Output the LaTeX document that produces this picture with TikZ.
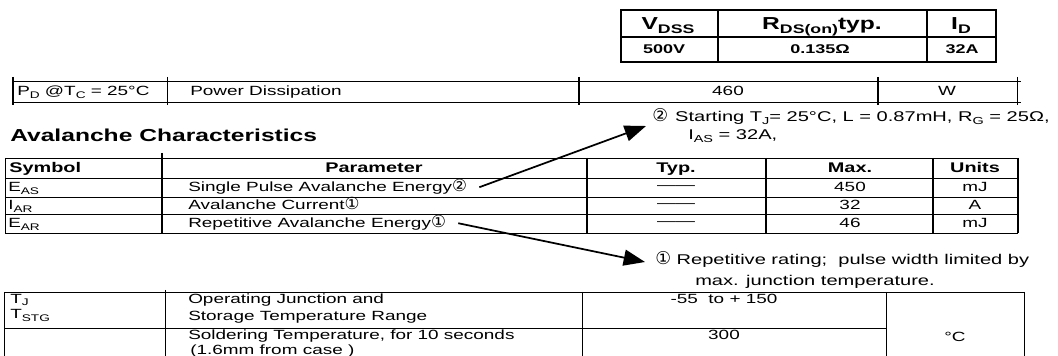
\documentclass[tikz,border=0pt]{standalone}
\usepackage{fontspec}
\setmainfont{Liberation Sans}[FakeStretch=1.42]
\newfontfamily\circfont{DejaVu Sans}
\usetikzlibrary{positioning,arrows.meta}

\newcommand{\lowidx}[1]{\raisebox{-0.35ex}{\scalebox{0.72}{#1}}}
\newcommand{\circnum}[1]{{\circfont\scalebox{1.25}{#1}}}

\begin{document}
\begin{tikzpicture}[x=0.75pt, y=-0.75pt,
    every node/.style={inner sep=0pt, font=\fontsize{10}{12}\selectfont},
    bighead/.style={font=\bfseries\fontsize{13}{15}\selectfont},
    colhead/.style={font=\bfseries\fontsize{10.5}{12}\selectfont},
    boldval/.style={font=\bfseries\fontsize{9.5}{11}\selectfont},
    dashval/.style={font=\fontsize{10}{12}\selectfont},
    notetext/.style={anchor=base west, font=\fontsize{10.6}{13}\selectfont},
    heavy/.style={line width=1.6pt},
    light/.style={line width=0.7pt},
    pointer/.style={line width=1.3pt, -{Triangle[length=16pt,width=12pt]}}]

    \useasboundingbox (0,0) rectangle (1058,356);

    \draw[heavy] (621,10) rectangle (996,62);
    \draw[heavy] (621,37) -- (996,37) (718,10) -- (718,62) (927,10) -- (927,62);
    \node[bighead, anchor=base] (vdss) at (668,30) {V\lowidx{DSS}};
    \node[bighead, anchor=base] (rdson) at (822,30) {R\lowidx{DS(on)}typ.};
    \node[bighead, anchor=base] (idrain) at (961,30) {I\lowidx{D}};
    \node[boldval, anchor=base] (vdssval) at (664,54) {500V};
    \node[boldval, anchor=base] (rdsonval) at (820,54) {0.135Ω};
    \node[boldval, anchor=base] (idrainval) at (962,54) {32A};

    \draw[light] (13,81) -- (1021,81) (13,102) -- (1021,102);
    \draw[line width=2.2pt] (13,77) -- (13,105);
    \draw[light] (167,77) -- (167,105) (1017,77) -- (1017,105);
    \draw[heavy] (579,77) -- (579,105) (878,77) -- (878,105);
    \node[anchor=base west] (pd) at (17,96) {P\lowidx{D} @T\lowidx{C} = 25°C};
    \node[anchor=base west] (pdpar) at (190,96) {Power Dissipation};
    \node[anchor=base] (pdmax) at (728,96) {460};
    \node[anchor=base] (pdunit) at (947,96) {W};

    \node[bighead, anchor=base west] (title) at (10,142) {Avalanche Characteristics};

    \foreach \y in {158,178,197,214,233}
        \draw[light] (5,\y) -- (1018,\y);
    \draw[light] (5,158) -- (5,233);
    \draw[heavy] (162,153) -- (162,233) (587,158) -- (587,233) (766,158) -- (766,233)
        (933,158) -- (933,233) (1018,158) -- (1018,233);

    \node[colhead, anchor=base west] (symhead) at (9,172.5) {Symbol};
    \node[colhead, anchor=base] (parhead) at (374,172.5) {Parameter};
    \node[colhead, anchor=base] (typhead) at (676,172.5) {Typ.};
    \node[colhead, anchor=base] (maxhead) at (850,172.5) {Max.};
    \node[colhead, anchor=base] (unithead) at (975,172.5) {Units};

    \node[anchor=base west] (eassym) at (8,192) {E\lowidx{AS}};
    \node[anchor=base west] (eas) at (188,192) {Single Pulse Avalanche Energy\circnum{②}};
    \node[dashval] (eastyp) at (676,188) {——};
    \node[anchor=base] (easmax) at (850,192) {450};
    \node[anchor=base] (easunit) at (975,192) {mJ};

    \node[anchor=base west] (iarsym) at (8,210) {I\lowidx{AR}};
    \node[anchor=base west] (iar) at (188,210) {Avalanche Current\circnum{①}};
    \node[dashval] (iartyp) at (676,206) {——};
    \node[anchor=base] (iarmax) at (850,210) {32};
    \node[anchor=base] (iarunit) at (975,210) {A};

    \node[anchor=base west] (earsym) at (8,228) {E\lowidx{AR}};
    \node[anchor=base west] (ear) at (188,228) {Repetitive Avalanche Energy\circnum{①}};
    \node[dashval] (eartyp) at (676,224) {——};
    \node[anchor=base] (earmax) at (850,228) {46};
    \node[anchor=base] (earunit) at (975,228) {mJ};

    \node[notetext] (note2) at (652,121.5) {\circnum{②}\hspace{0.5em}Starting T\lowidx{J}= 25°C, L = 0.87mH, R\lowidx{G} = 25Ω,};
    \node[notetext] (note2b) at (688,140) {I\lowidx{AS} = 32A,};
    \node[notetext] (note1) at (655,264.5) {\circnum{①} Repetitive rating;\ \ pulse width limited by};
    \node[notetext] (note1b) at (695,285.5) {max. junction temperature.};

    \coordinate (tip2) at (646,126);
    \coordinate (tip1) at (645,262);
    \draw[pointer] ([xshift=9pt]eas.east) -- (tip2);
    \draw[pointer] ([xshift=9pt]ear.east) -- (tip1);

    \draw[light] (4,292) -- (1024,292) (4,328) -- (886,328);
    \draw[light] (4,292) -- (4,356) (165,290) -- (165,356) (582,292) -- (582,356)
        (886,292) -- (886,356) (1024,292) -- (1024,356);

    \node[anchor=base west] (tjsym) at (10,303.5) {T\lowidx{J}};
    \node[anchor=base west] (tstgsym) at (10,319) {T\lowidx{STG}};
    \node[anchor=base west] (oper) at (188,303.5) {Operating Junction and};
    \node[anchor=base west] (stor) at (188,320.5) {Storage Temperature Range};
    \node[anchor=base west] (sold) at (188,339.5) {Soldering Temperature, for 10 seconds};
    \node[anchor=base west] (solda) at (190,354.5) {(1.6mm from case )};
    \node[anchor=base] (tjrange) at (724,303.5) {-55\ \ to + 150};
    \node[anchor=base] (soldval) at (724,339.5) {300};
    \node[anchor=base] (tempunit) at (955,342) {°C};

\end{tikzpicture}
\end{document}
